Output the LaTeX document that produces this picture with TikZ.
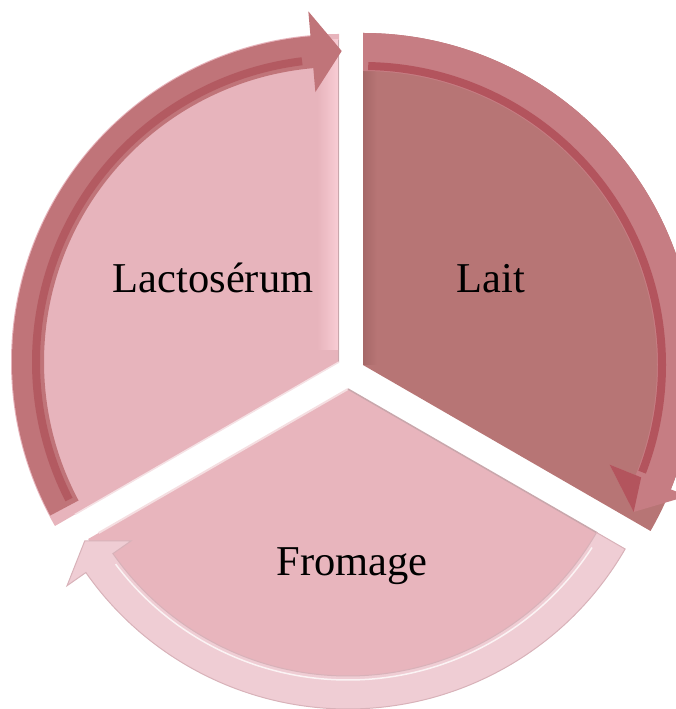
\documentclass[tikz,border=0pt]{standalone}
\usepackage{fontspec}
\setmainfont{Liberation Serif}
\definecolor{laitbody}{HTML}{B77575}
\definecolor{laitband}{HTML}{C67D83}
\definecolor{laitstripe}{HTML}{B3545D}
\definecolor{laitshadow}{HTML}{A66868}
\definecolor{lactbody}{HTML}{E7B4BC}
\definecolor{lactlight}{HTML}{F8CCD4}
\definecolor{lactband}{HTML}{C07479}
\definecolor{lactstripe}{HTML}{B35A61}
\definecolor{frombody}{HTML}{E8B5BD}
\definecolor{fromband}{HTML}{EFCDD4}
\definecolor{fromedge}{HTML}{D8B2B9}
\definecolor{edgegray}{HTML}{C9A7AC}
\tikzset{
  lbl/.style={anchor=base, inner sep=0pt, font=\fontsize{42.5}{50}\selectfont, text=black},
}
\begin{document}
\begin{tikzpicture}[x=1pt,y=1pt]
\useasboundingbox (0,0) rectangle (676,709);
\clip (0,0) rectangle (676,709);

% ---------- Lactoserum segment ----------
\begin{scope}[shift={(339,347)}]
  \fill[lactbody] (0,0) -- (90:328pt) arc[start angle=90, end angle=210, radius=328pt] -- cycle;
  \shade[left color=lactbody, right color=lactlight] (-22,12) rectangle (-1,322);
  \draw[edgegray, line width=1.2pt] (-0.6,0) -- (-0.6,322);
  \draw[white!60!lactbody, line width=1.5pt] (0,0) -- (210:305pt);
  % arrow
  \fill[lactband] (208:327pt) arc[start angle=208, end angle=95, radius=327pt]
     -- (95:352pt) -- (89.5:311pt) -- (95:271pt) -- (95:295pt)
     arc[start angle=95, end angle=208, radius=295pt] -- cycle;
  \draw[lactstripe, line width=8pt] (207:303pt) arc[start angle=207, end angle=97, radius=303pt];
\end{scope}

% ---------- Lait segment ----------
\begin{scope}[shift={(363,344)}]
  \fill[laitbody] (0,0) -- (90:332pt) arc[start angle=90, end angle=-30, radius=332pt] -- cycle;
  \shade[left color=laitshadow, right color=laitbody] (0,0) rectangle (14,328);
  % arrow
  \fill[laitband] (90:332pt) arc[start angle=90, end angle=-22, radius=332pt]
     -- (-22:350pt) -- (-28.5:308pt) -- (-22:266pt) -- (-22:294pt)
     arc[start angle=-22, end angle=90, radius=294pt] -- cycle;
  \draw[laitstripe, line width=8pt] (89:299pt) arc[start angle=89, end angle=-21, radius=299pt];
  \fill[laitstripe] (-22:300pt) -- (-22:266pt) -- (-28.5:308pt) -- cycle;
\end{scope}

% ---------- Fromage segment ----------
\begin{scope}[shift={(348,320)}]
  \fill[frombody] (0,0) -- (210:300pt) arc[start angle=210, end angle=330, radius=300pt] -- cycle;
  \draw[white!55!frombody, line width=2pt] (0,0) -- (210:288pt);
  \draw[edgegray, line width=1.5pt] (0,0) -- (330:288pt);
  % arrow
  \filldraw[fill=fromband, draw=fromedge, line width=1pt]
     (-30:320pt) arc[start angle=-30, end angle=-145, radius=320pt]
     -- (-145:343pt) -- (-150:304pt) -- (-145:265pt) -- (-145:287pt)
     arc[start angle=-145, end angle=-30, radius=287pt] -- cycle;
  \draw[white!75!fromband, line width=1.5pt] (-33:291pt) arc[start angle=-33, end angle=-143, radius=291pt];
\end{scope}

% ---------- labels ----------
\node[lbl] (lact) at (213,416) {Lactosérum};
\node[lbl] (lait) at (491,416) {Lait};
\node[lbl] (from) at (352,133) {Fromage};
\end{tikzpicture}
\end{document}
